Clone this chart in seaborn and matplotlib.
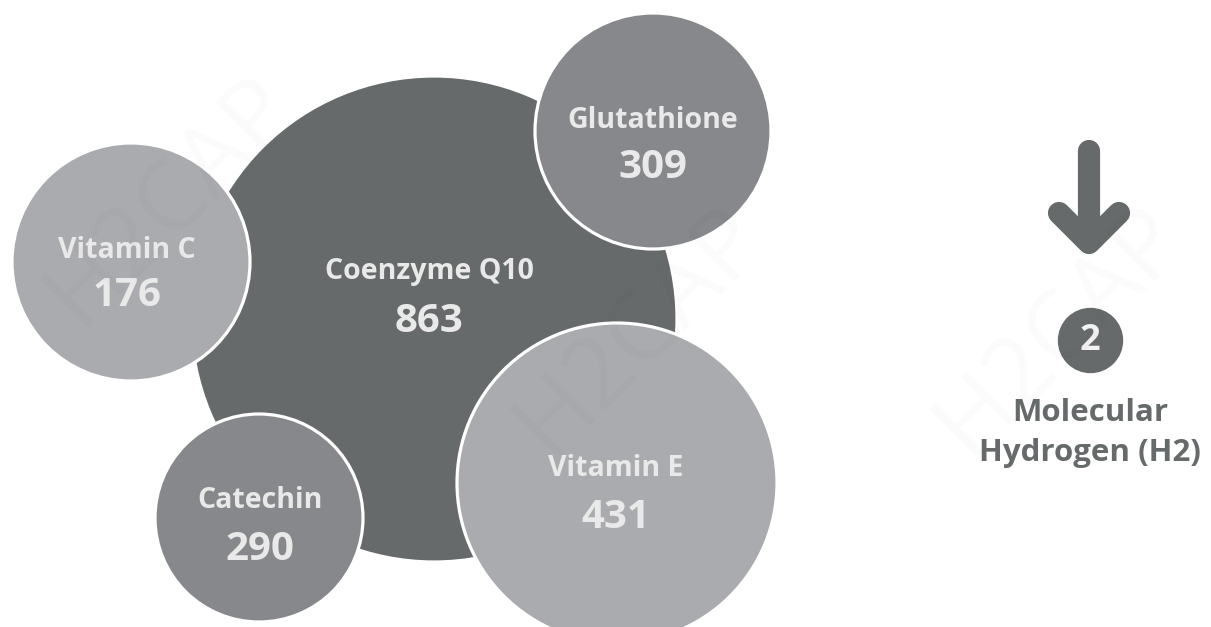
import pandas as pd
import seaborn as sns
import matplotlib.pyplot as plt

# 데이터
names = ['Coenzyme Q10', 'Vitamin C', 'Glutathione', 'Catechin', 'Vitamin E']
values = [863, 176, 309, 290, 431]

# 배치 (픽셀 좌표, 반지름)
cx = [434, 131, 653, 259, 617]
cy = [319, 262, 131, 518, 483]
radius = [243, 119, 118, 104, 160]
label_y = [272, 250, 121, 500, 468]
value_y = [322, 296, 167, 549, 517]
label_x = [429, 127, 653, 260, 616]

colors = {'Coenzyme Q10': '#666a6b', 'Vitamin C': '#aaabae', 'Glutathione': '#87888b',
          'Catechin': '#87888b', 'Vitamin E': '#aaabae'}

sns.set_style('white')
plt.rcParams['font.family'] = ['Open Sans', 'DejaVu Sans']

df = pd.DataFrame({'name': names, 'value': values, 'x': cx, 'y': cy, 'r': radius})
# 마커 크기 (pt^2), dpi 100 기준
sizes = {n: (1.44 * r) ** 2 for n, r in zip(names, radius)}

fig = plt.figure(figsize=(12.11, 6.27), dpi=100)
ax = fig.add_axes([0, 0, 1, 1])

sns.scatterplot(data=df, x='x', y='y', hue='name', palette=colors, size='name', sizes=sizes,
                edgecolor='white', linewidth=2.3, legend=False, ax=ax, zorder=2)

for i in range(len(names)):
    ax.text(label_x[i], label_y[i], names[i], ha='center', va='center', fontsize=20.5,
            fontweight='bold', color='#e9e9e9', zorder=4)
    ax.text(label_x[i], value_y[i], str(values[i]), ha='center', va='center', fontsize=29,
            fontweight='bold', color='#e9e9e9', zorder=4)

# 화살표
dark = '#666a6b'
ax.plot([1089, 1089], [151, 242], color=dark, lw=16, solid_capstyle='round', zorder=3)
ax.plot([1059, 1089, 1119], [213, 243, 213], color=dark, lw=16, solid_capstyle='round',
        solid_joinstyle='round', zorder=3)

# 번호 뱃지
ax.scatter([1090], [340], s=(1.44 * 32) ** 2, color=dark, zorder=3)
ax.text(1090, 341, '2', ha='center', va='center', fontsize=26, fontweight='bold',
        color='#f2f2f2', zorder=4)
ax.text(1090, 413, 'Molecular', ha='center', va='center', fontsize=22.5, fontweight='bold',
        color=dark, zorder=4)
ax.text(1090, 453, 'Hydrogen (H2)', ha='center', va='center', fontsize=22.5, fontweight='bold',
        color=dark, zorder=4)

# 워터마크
for wx, wy in [(170, 200), (640, 330), (1060, 330)]:
    ax.text(wx, wy, 'H2CAP', ha='center', va='center', fontsize=70, rotation=45,
            color='black', alpha=0.02, zorder=5)

ax.set_xlim(0, 1211)
ax.set_ylim(627, 0)
ax.axis('off')

fig.savefig('out.png', dpi=100)
